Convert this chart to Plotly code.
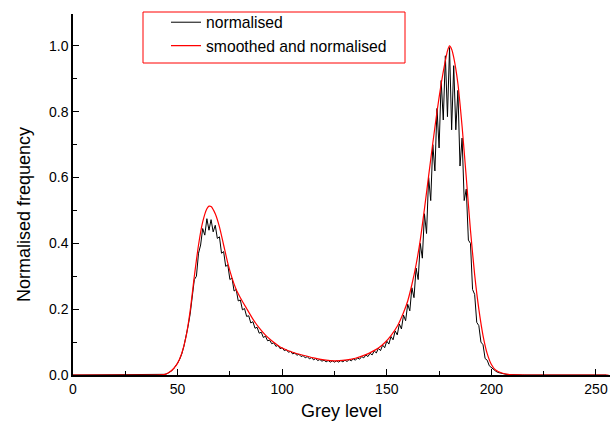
import plotly.graph_objects as go

# Grey levels 0..255 for the raw normalised histogram
grey_levels = list(range(256))
normalised = [
    0.0, 0.0, 0.0, 0.0, 0.0, 0.0, 0.0, 0.0, 0.0, 0.0,
    0.0, 0.0, 0.0, 0.0, 0.0, 0.0, 0.0, 0.0, 0.0, 0.0,
    0.0, 0.0, 0.0, 0.0, 0.0, 0.0, 0.0, 0.0, 0.0, 0.0,
    0.0, 0.0, 0.0, 0.0, 0.0, 0.0, 0.0, 0.0, 0.0, 0.0,
    0.0, 0.0, 0.0, 0.001, 0.002, 0.004, 0.007, 0.012, 0.018, 0.026,
    0.036, 0.048, 0.064, 0.087, 0.115, 0.148, 0.185, 0.235, 0.29, 0.30,
    0.37, 0.395, 0.445, 0.425, 0.475, 0.44, 0.472, 0.435, 0.455, 0.415,
    0.42, 0.37, 0.375, 0.33, 0.335, 0.29, 0.295, 0.255, 0.26, 0.225,
    0.228, 0.198, 0.202, 0.178, 0.18, 0.158, 0.162, 0.142, 0.145, 0.127,
    0.13, 0.114, 0.118, 0.104, 0.106, 0.095, 0.098, 0.087, 0.09, 0.08,
    0.083, 0.074, 0.077, 0.069, 0.072, 0.064, 0.067, 0.06, 0.063, 0.056,
    0.059, 0.052, 0.056, 0.049, 0.053, 0.046, 0.05, 0.044, 0.047, 0.042,
    0.045, 0.04, 0.044, 0.039, 0.043, 0.039, 0.043, 0.039, 0.044, 0.04,
    0.045, 0.041, 0.047, 0.043, 0.049, 0.045, 0.052, 0.048, 0.056, 0.052,
    0.061, 0.056, 0.066, 0.061, 0.073, 0.067, 0.081, 0.074, 0.091, 0.083,
    0.103, 0.094, 0.117, 0.107, 0.134, 0.122, 0.155, 0.14, 0.182, 0.165,
    0.215, 0.195, 0.265, 0.235, 0.325, 0.29, 0.40, 0.355, 0.49, 0.43,
    0.60, 0.53, 0.70, 0.62, 0.81, 0.69, 0.895, 0.775, 0.97, 0.785,
    0.995, 0.745, 0.94, 0.745, 0.865, 0.635, 0.72, 0.53, 0.565, 0.41,
    0.40, 0.26, 0.245, 0.16, 0.15, 0.10, 0.092, 0.05, 0.045, 0.028,
    0.022, 0.016, 0.012, 0.008, 0.006, 0.004, 0.003, 0.002, 0.0015, 0.001,
    0.0005, 0.0, 0.0, 0.0, 0.0, 0.0, 0.0, 0.0, 0.0, 0.0,
    0.0, 0.0, 0.0, 0.0, 0.0, 0.0, 0.0, 0.0, 0.0, 0.0,
    0.0, 0.0, 0.0, 0.0, 0.0, 0.0, 0.0, 0.0, 0.0, 0.0,
    0.0, 0.0, 0.0, 0.0, 0.0, 0.0, 0.0, 0.0, 0.0, 0.0,
    0.0, 0.0, 0.0, 0.0, 0.0, 0.0,
]

# Smoothed curve sampled at grey levels
smooth_levels = [0, 30, 40, 42, 44, 46, 48, 50, 52, 54, 56, 58, 60, 62, 64, 65, 66, 68,
                 70, 72, 74, 76, 78, 80, 83, 86, 89, 92, 95, 98, 100, 105, 110, 115,
                 120, 125, 130, 135, 140, 143, 146, 149, 152, 155, 158, 160, 162, 164,
                 166, 168, 170, 172, 174, 176, 178, 179, 180, 181, 182, 184, 186, 188,
                 190, 192, 194, 196, 198, 200, 202, 205, 208, 212, 220, 256]
smoothed = [0.0, 0.0, 0.0, 0.0005, 0.002, 0.008, 0.019, 0.036, 0.066, 0.115, 0.195, 0.30,
            0.395, 0.465, 0.505, 0.513, 0.512, 0.49, 0.45, 0.395, 0.34, 0.295, 0.26,
            0.235, 0.202, 0.170, 0.143, 0.121, 0.104, 0.090, 0.082, 0.069, 0.060, 0.052,
            0.046, 0.043, 0.045, 0.051, 0.062, 0.071, 0.082, 0.098, 0.120, 0.148, 0.190,
            0.225, 0.275, 0.335, 0.41, 0.505, 0.605, 0.705, 0.80, 0.885, 0.955, 0.985,
            1.0, 0.99, 0.965, 0.885, 0.755, 0.60, 0.44, 0.305, 0.2, 0.12, 0.065, 0.032,
            0.015, 0.006, 0.002, 0.0005, 0.0, 0.0]

x_ticks = [0, 50, 100, 150, 200, 250]
y_ticks = [0.0, 0.2, 0.4, 0.6, 0.8, 1.0]

FONT = "Liberation Sans, Arial, sans-serif"

fig = go.Figure()
fig.add_trace(go.Scatter(x=grey_levels, y=normalised, mode="lines", name="normalised",
                         line=dict(color="black", width=1), legendgroup="a"))
fig.add_trace(go.Scatter(x=smooth_levels, y=smoothed, mode="lines",
                         name="smoothed and normalised", line=dict(color="red", width=1.2, shape="spline", smoothing=0.6),
                         legendgroup="b"))

axis_common = dict(showgrid=False, zeroline=False, showline=True, linecolor="black", linewidth=1.5,
                   ticks="inside", ticklen=6, tickwidth=1.2, tickcolor="black",
                   tickfont=dict(family=FONT, size=14, color="black"))

fig.update_layout(
    width=613, height=432,
    margin=dict(l=73, r=3, t=14, b=57),
    paper_bgcolor="white", plot_bgcolor="white",
    font=dict(family=FONT, color="black"),
    xaxis=dict(range=[0, 256.7], tickvals=x_ticks, ticktext=[str(v) for v in x_ticks],
               minor=dict(tickvals=[25, 75, 125, 175, 225], ticks="inside", ticklen=4, tickcolor="black"),
               title=dict(text="Grey level", font=dict(family=FONT, size=18), standoff=9),
               **axis_common),
    yaxis=dict(range=[0, 1.097], tickvals=y_ticks, ticktext=[f"{v:.1f}" for v in y_ticks],
               minor=dict(tickvals=[0.1, 0.3, 0.5, 0.7, 0.9], ticks="inside", ticklen=4, tickcolor="black"),
               **axis_common),
    annotations=[dict(text="Normalised frequency", textangle=-90, showarrow=False,
                      xref="paper", yref="paper", x=(24 - 73) / 537, y=(375 - 215) / 361,
                      xanchor="center", yanchor="middle",
                      font=dict(family=FONT, size=18, color="black"))],
    showlegend=True,
    legend=dict(x=(166 - 73) / 537, y=1 + 8.5 / 361, xanchor="left", yanchor="top",
                bgcolor="rgba(0,0,0,0)", borderwidth=0, traceorder="grouped", tracegroupgap=0,
                font=dict(family=FONT, size=15.7, color="black")),
    shapes=[dict(type="rect", xref="paper", yref="paper",
                 x0=(143 - 73) / 537, x1=(405 - 73) / 537,
                 y0=(375 - 63) / 361, y1=(375 - 12) / 361,
                 line=dict(color="red", width=1), fillcolor="white", layer="below")],
)

fig.write_html("out.html", post_script="document.body.style.margin='0px';",
               config={"displayModeBar": False})
